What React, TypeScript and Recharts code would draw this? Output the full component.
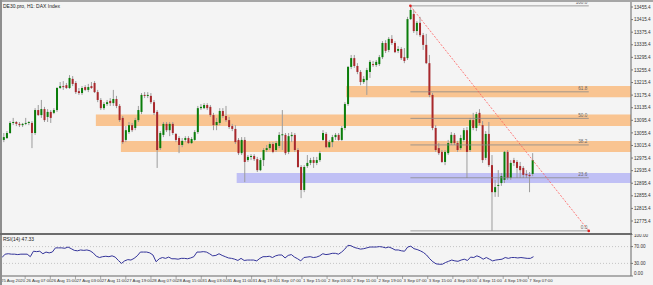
import React from 'react';
import {
    ComposedChart,
    LineChart,
    Line,
    Bar,
    XAxis,
    YAxis,
    ReferenceLine,
    ReferenceArea,
    ReferenceDot
} from 'recharts';

// hourly DAX candles, 25 Aug - 7 Sep 2020
const opens = [
    13033, 13039, 13055, 13087, 13090, 13084, 13080, 13084, 13087, 13087,
    13055, 13128, 13112, 13131, 13106, 13122, 13119, 13128, 13198, 13204,
    13207, 13198, 13227, 13214, 13188, 13182, 13201, 13192, 13204, 13214,
    13185, 13160, 13134, 13147, 13157, 13150, 13163, 13141, 13103, 13033,
    13058, 13080, 13071, 13096, 13122, 13176, 13173, 13173, 13153, 13122,
    13007, 13049, 13084, 13064, 13084, 13052, 13039, 13017, 13033, 13039,
    13023, 13033, 13058, 13134, 13134, 13144, 13138, 13112, 13080, 13087,
    13125, 13109, 13096, 13077, 13068, 13033, 12991, 13033, 12969, 12979,
    12982, 12972, 12937, 12969, 13001, 13007, 13020, 13001, 13014, 13049,
    13049, 12995, 13045, 13049, 13001, 12947, 12874, 12950, 12960, 12969,
    12960, 12969, 13033, 13052, 13010, 13026, 13042, 13049, 13033, 13071,
    13147, 13265, 13293, 13268, 13249, 13217, 13223, 13249, 13274, 13271,
    13274, 13296, 13341, 13319, 13354, 13341, 13316, 13322, 13296, 13293,
    13417, 13433, 13379, 13405, 13366, 13335, 13277, 13176, 13071, 13007,
    12995, 12963, 12991, 13023, 13049, 13023, 13007, 13033, 13064, 13001,
    13096, 13071, 13119, 13080, 12976, 13052, 12953, 12867, 12887, 12896,
    12906, 12995, 12912, 12969, 12963, 12950, 12944, 12924, 12922, 12925
];
const highs = [
    13055, 13061, 13093, 13103, 13093, 13090, 13087, 13103, 13093, 13093,
    13134, 13144, 13160, 13138, 13131, 13128, 13134, 13201, 13217, 13220,
    13214, 13239, 13236, 13220, 13198, 13204, 13207, 13211, 13217, 13220,
    13192, 13166, 13153, 13160, 13166, 13192, 13173, 13147, 13109, 13077,
    13090, 13087, 13103, 13141, 13182, 13185, 13185, 13182, 13160, 13128,
    13061, 13090, 13090, 13090, 13090, 13055, 13045, 13039, 13045, 13045,
    13042, 13064, 13141, 13147, 13150, 13150, 13144, 13119, 13103, 13134,
    13134, 13141, 13106, 13084, 13080, 13039, 13042, 13042, 12985, 12988,
    12988, 12979, 12976, 13007, 13017, 13026, 13026, 13030, 13058, 13128,
    13055, 13055, 13058, 13055, 13007, 12953, 12953, 12985, 12976, 12979,
    12979, 12998, 13064, 13058, 13033, 13049, 13055, 13055, 13077, 13153,
    13268, 13303, 13303, 13277, 13255, 13236, 13262, 13287, 13284, 13287,
    13303, 13347, 13350, 13360, 13366, 13347, 13331, 13328, 13325, 13424,
    13459, 13446, 13411, 13424, 13373, 13370, 13303, 13182, 13080, 13023,
    13001, 13001, 13033, 13058, 13055, 13030, 13049, 13071, 13074, 13103,
    13119, 13122, 13131, 13093, 13061, 13090, 12985, 12906, 12937, 12928,
    12998, 13001, 12969, 12976, 12969, 12963, 12950, 12937, 12931, 12991
];
const lows = [
    13026, 13036, 13052, 13080, 13077, 13074, 13074, 13080, 13080, 13007,
    13049, 13109, 13103, 13090, 13090, 13087, 13115, 13122, 13195, 13192,
    13195, 13195, 13204, 13179, 13176, 13176, 13188, 13185, 13195, 13182,
    13153, 13128, 13128, 13141, 13141, 13141, 13134, 13090, 13020, 13026,
    13052, 13058, 13064, 13090, 13115, 13166, 13166, 13147, 13112, 12944,
    13001, 13042, 13058, 13045, 13049, 13026, 12991, 13010, 13026, 13020,
    13020, 13030, 13052, 13128, 13131, 13128, 13106, 13064, 13064, 13080,
    13103, 13090, 13068, 13061, 13020, 12985, 12985, 12899, 12963, 12969,
    12966, 12931, 12934, 12950, 12995, 13001, 12991, 12995, 13007, 13001,
    12985, 12988, 13026, 12995, 12944, 12848, 12867, 12944, 12953, 12944,
    12953, 12963, 13030, 13007, 13007, 13010, 13033, 13030, 13030, 13064,
    13141, 13258, 13262, 13242, 13207, 13211, 13176, 13230, 13265, 13265,
    13268, 13290, 13309, 13312, 13335, 13309, 13309, 13287, 13277, 13287,
    13414, 13373, 13366, 13360, 13319, 13274, 13169, 13064, 12995, 12985,
    12960, 12953, 12985, 13017, 13017, 12995, 13001, 13026, 12912, 12995,
    13064, 13061, 13080, 12960, 12969, 12947, 12744, 12852, 12852, 12887,
    12896, 12906, 12906, 12950, 12912, 12912, 12912, 12912, 12867, 12918
];
const closes = [
    13042, 13055, 13087, 13090, 13084, 13080, 13084, 13087, 13090, 13055,
    13128, 13112, 13131, 13096, 13122, 13103, 13128, 13198, 13204, 13201,
    13198, 13230, 13211, 13185, 13182, 13198, 13192, 13201, 13198, 13185,
    13160, 13134, 13147, 13153, 13150, 13163, 13141, 13096, 13026, 13064,
    13080, 13064, 13096, 13128, 13176, 13173, 13176, 13153, 13119, 13001,
    13055, 13084, 13064, 13084, 13055, 13033, 13017, 13030, 13039, 13023,
    13036, 13058, 13134, 13138, 13144, 13134, 13112, 13080, 13090, 13125,
    13109, 13096, 13074, 13068, 13026, 12991, 13033, 12963, 12979, 12982,
    12972, 12937, 12969, 13001, 13007, 13020, 12995, 13023, 13049, 13051,
    12991, 13045, 13049, 13001, 12947, 12874, 12947, 12960, 12969, 12960,
    12969, 12991, 13055, 13010, 13026, 13042, 13049, 13033, 13071, 13147,
    13265, 13293, 13268, 13249, 13217, 13227, 13255, 13281, 13271, 13281,
    13296, 13341, 13316, 13354, 13341, 13312, 13322, 13293, 13284, 13417,
    13446, 13379, 13405, 13366, 13335, 13277, 13176, 13071, 13001, 12991,
    12963, 12995, 13023, 13049, 13023, 13001, 13039, 13064, 12995, 13096,
    13071, 13115, 13087, 12969, 13052, 12953, 12867, 12883, 12890, 12918,
    12995, 12912, 12960, 12960, 12944, 12937, 12922, 12921, 12918, 12969
];
const rsi = [
    44, 52, 53, 52, 52, 51, 52, 52, 52, 46,
    59, 58, 59, 53, 57, 55, 57, 67, 67, 67,
    66, 69, 65, 61, 60, 62, 61, 62, 60, 55,
    47, 44, 46, 47, 46, 48, 45, 37, 30, 36,
    39, 38, 42, 48, 57, 57, 57, 55, 50, 34,
    41, 44, 42, 45, 41, 41, 40, 42, 42, 41,
    43, 46, 57, 57, 58, 57, 53, 48, 49, 53,
    49, 46, 43, 42, 40, 37, 42, 37, 38, 38,
    38, 36, 42, 46, 46, 47, 44, 48, 50, 50,
    43, 49, 51, 45, 41, 36, 44, 45, 46, 44,
    45, 48, 53, 51, 52, 54, 54, 52, 57, 64,
    73, 72, 68, 66, 64, 65, 67, 69, 69, 69,
    70, 69, 67, 69, 66, 62, 62, 60, 59, 69,
    71, 65, 63, 60, 56, 50, 41, 34, 29, 28,
    28, 32, 35, 38, 36, 35, 38, 40, 37, 45,
    44, 48, 45, 40, 44, 40, 36, 38, 39, 40,
    44, 42, 44, 44, 43, 44, 43, 42, 42, 46
];

const timeLabels = [
    '25 Aug 2020', '26 Aug 07:00', '26 Aug 15:00', '27 Aug 03:00', '27 Aug 11:00',
    '27 Aug 19:00', '28 Aug 07:00', '28 Aug 15:00', '31 Aug 03:00', '31 Aug 11:00',
    '31 Aug 19:00', '1 Sep 07:00', '1 Sep 15:00', '2 Sep 03:00', '2 Sep 11:00',
    '2 Sep 19:00', '3 Sep 07:00', '3 Sep 15:00', '4 Sep 03:00', '4 Sep 11:00',
    '4 Sep 19:00', '7 Sep 07:00'
];
const timeTickIdx = timeLabels.map((_, k) => k * 8);

const priceTicks = [
    13455.4, 13415.4, 13375.4, 13335.4, 13295.4, 13255.4, 13215.4, 13175.4, 13135.4,
    13095.4, 13055.4, 13015.4, 12975.4, 12935.4, 12895.4, 12855.4, 12815.4, 12775.4
];
const rsiTicks = [0, 30, 70, 100];

// supply / demand zones drawn on the chart
const zones = [
    { from: 110, top: 13204, bottom: 13169, fill: 'rgb(251,164,79)', opacity: 0.6 },
    { from: 30, top: 13114, bottom: 13077, fill: 'rgb(251,164,79)', opacity: 0.6 },
    { from: 38, top: 13030, bottom: 12995, fill: 'rgb(251,164,79)', opacity: 0.6 },
    { from: 75, top: 12928, bottom: 12896, fill: 'rgb(140,140,246)', opacity: 0.5 }
];

// fibonacci from the 3 Sep high to the 4 Sep low
const fibHighIdx = 130;
const fibLowIdx = 156;
const fibEndIdx = 187;
const fibRatios = [1, 0.618, 0.5, 0.382, 0.236, 0];
const fibNames = ['100.0', '61.8', '50.0', '38.2', '23.6', '0.0'];

const SLOTS = 201;
const data = Array.from({ length: SLOTS }, (_, i) =>
    i < opens.length
        ? { i, o: opens[i], h: highs[i], l: lows[i], c: closes[i], r: rsi[i] }
        : { i }
);

const fibHigh = highs[fibHighIdx];
const fibLow = lows[fibLowIdx];

const Candle = (props: any) => {
    const { x, y, width, height, payload } = props;
    if (!payload || payload.h == null) return null;
    const { o, h, l, c } = payload;
    const top = Math.min(y, y + height);
    const hh = Math.abs(height);
    const k = hh / Math.max(h - l, 0.0001);
    const cx = x + width / 2;
    const bodyTop = top + (h - Math.max(o, c)) * k;
    const bodyH = Math.max(Math.abs(o - c) * k, 1);
    return (
        <g>
            <line x1={cx} x2={cx} y1={top} y2={top + hh} stroke="#9c9c9c" strokeWidth={1} />
            <rect x={cx - 1} y={bodyTop} width={2} height={bodyH} fill={c >= o ? '#0a7d0a' : '#a8282c'} />
        </g>
    );
};

const TimeTick = (props: any) => {
    const { x, y, payload } = props;
    const k = timeTickIdx.indexOf(payload.value);
    if (k < 0) return null;
    return (
        <g>
            <line x1={x - 2} x2={x - 2} y1={y} y2={y + 3} stroke="#777" strokeWidth={0.6} />
            <text x={x - 1} y={y + 5.5} fontSize={4.3} fill="#333" textAnchor="start">
                {timeLabels[k]}
            </text>
        </g>
    );
};

const RsiTick = (props: any) => {
    const { x, y, payload } = props;
    const v = payload.value;
    const dy = v === 100 ? 3 : v === 0 ? -1.5 : 1.5;
    return (
        <text x={x} y={y + dy} fontSize={4.6} fill="#333" textAnchor="start">
            {v.toFixed(2)}
        </text>
    );
};

const font = '"Liberation Sans", Arial, sans-serif';

export default function App() {
    return (
        <div style={{ position: 'absolute', left: 0, top: 0, width: 653, height: 285, background: '#f4f4f4', overflow: 'hidden', fontFamily: font }}>
            <div style={{ position: 'absolute', left: 0, top: 0, width: 653, height: 234 }}>
                <ComposedChart width={653} height={234} data={data} margin={{ top: 2, right: 0, bottom: 0, left: 2 }}>
                    <XAxis dataKey="i" type="category" hide />
                    <YAxis
                        orientation="right"
                        width={22}
                        domain={[12734.1, 13471.3]}
                        ticks={priceTicks}
                        interval={0}
                        tickFormatter={(v: number) => v.toFixed(1)}
                        tick={{ fontSize: 4.6, fill: '#333', fontFamily: font }}
                        tickSize={2}
                        tickMargin={1}
                        tickLine={{ stroke: '#777' }}
                        axisLine={{ stroke: '#666' }}
                    />
                    {fibRatios.map((r, k) => {
                        const p = fibLow + (fibHigh - fibLow) * r;
                        return (
                            <ReferenceLine
                                key={fibNames[k]}
                                segment={[{ x: fibHighIdx, y: p }, { x: fibEndIdx, y: p }]}
                                stroke="#8a8a8a"
                                strokeWidth={0.8}
                                label={{ value: fibNames[k], position: 'insideBottomRight', offset: 1.5, fontSize: 4.6, fill: '#666' }}
                            />
                        );
                    })}
                    <Bar dataKey={(d: any) => (d.h == null ? null : [d.l, d.h])} shape={<Candle />} isAnimationActive={false} />
                    {zones.map((z, k) => (
                        <ReferenceArea
                            key={k}
                            x1={z.from}
                            y1={z.bottom}
                            y2={z.top}
                            fill={z.fill}
                            fillOpacity={z.opacity}
                            stroke="none"
                        />
                    ))}
                    <ReferenceLine
                        segment={[{ x: fibHighIdx, y: fibHigh }, { x: fibEndIdx, y: fibLow }]}
                        stroke="#ff5a5a"
                        strokeWidth={0.8}
                        strokeDasharray="2 1.5"
                    />
                    <ReferenceDot x={fibHighIdx} y={fibHigh} r={1.3} fill="#e02020" stroke="none" />
                    <ReferenceDot x={fibEndIdx} y={fibLow} r={1.3} fill="#e02020" stroke="none" />
                </ComposedChart>
            </div>
            <div style={{ position: 'absolute', left: 0, top: 234, width: 653, height: 51 }}>
                <LineChart width={653} height={51} data={data} margin={{ top: 0, right: 0, bottom: 0, left: 2 }}>
                    <XAxis
                        dataKey="i"
                        type="category"
                        ticks={timeTickIdx}
                        interval={0}
                        height={9}
                        tick={<TimeTick />}
                        tickSize={0}
                        tickMargin={0}
                        tickLine={false}
                        axisLine={{ stroke: '#666' }}
                    />
                    <YAxis
                        orientation="right"
                        width={22}
                        domain={[0, 100]}
                        ticks={rsiTicks}
                        interval={0}
                        tick={<RsiTick />}
                        tickSize={2}
                        tickMargin={1}
                        tickLine={{ stroke: '#777' }}
                        axisLine={{ stroke: '#666' }}
                    />
                    <ReferenceLine y={70} stroke="#b0b0b0" strokeWidth={0.7} strokeDasharray="1 2" />
                    <ReferenceLine y={30} stroke="#b0b0b0" strokeWidth={0.7} strokeDasharray="1 2" />
                    <Line dataKey="r" type="linear" stroke="#34349a" strokeWidth={1} dot={false} isAnimationActive={false} />
                </LineChart>
            </div>
            <div style={{ position: 'absolute', left: 0, top: 0, width: 653, height: 2, background: '#a6a6a6' }} />
            <div style={{ position: 'absolute', left: 0, top: 0, width: 1.5, height: 285, background: '#8e8e8e' }} />
            <div style={{ position: 'absolute', left: 0, top: 233, width: 632, height: 1.5, background: '#6c6c6c' }} />
            <div style={{ position: 'absolute', left: 3, top: 3, fontSize: 5, color: '#222', lineHeight: '6px', whiteSpace: 'nowrap' }}>
                DE30.pro, H1: DAX Index
            </div>
            <div style={{ position: 'absolute', left: 3, top: 236, fontSize: 5, color: '#222', lineHeight: '6px', whiteSpace: 'nowrap' }}>
                RSI(14) 47.33
            </div>
        </div>
    );
}
